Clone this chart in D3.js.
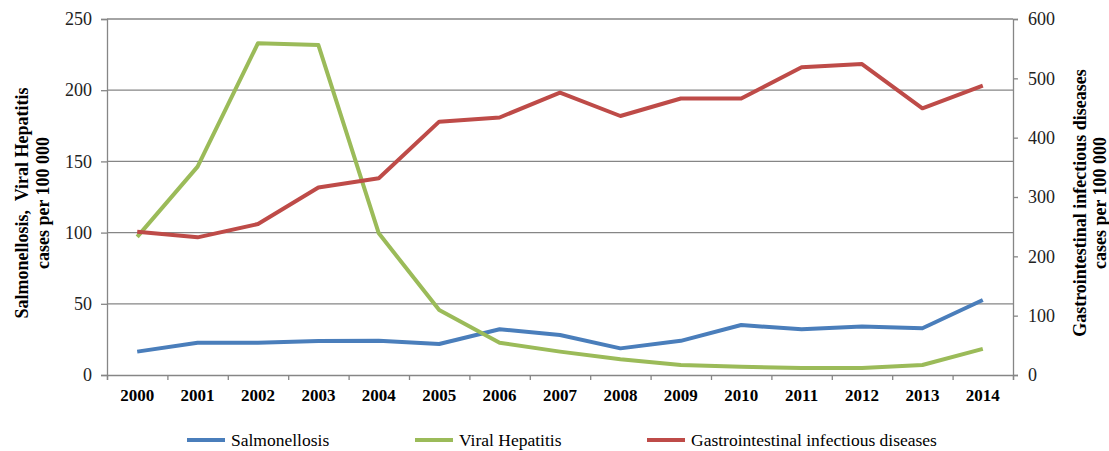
<!DOCTYPE html>
<html><head><meta charset="utf-8">
<script src="https://cdn.jsdelivr.net/npm/d3@7"></script>
<style>
html,body{margin:0;padding:0;background:#fff;}
svg{display:block;}
</style></head>
<body><svg id="c" width="1109" height="451"></svg>
<script>
const years = ["2000","2001","2002","2003","2004","2005","2006","2007","2008","2009","2010","2011","2012","2013","2014"];
const salmonellosis = [16.4,22.7,22.7,23.9,24,21.8,32.1,28.1,18.7,24,35.1,32.1,34,32.8,52.7];
const viralHepatitis = [97,146.3,233,231.7,99.5,45.6,22.7,16.4,11,7,5.8,4.9,4.9,7,18.3];
const gastro = [241.5,232,254.5,316,331.5,427,434,476,436.5,466,466,518.6,524,449.5,487.6];
const leftTicks = [0,50,100,150,200,250];
const rightTicks = [0,100,200,300,400,500,600];
const seriesNames = ["Salmonellosis","Viral Hepatitis","Gastrointestinal infectious diseases"];
const colors = ["#4A7EBB","#9BBB59","#BE4B48"];

const FONT = '"Liberation Serif", "Times New Roman", serif';
const svg = d3.select("#c");
const L = 107, R = 1013, T = 19, B = 375;
const x = d3.scaleBand().domain(years).range([L, R]).paddingInner(0).paddingOuter(0);
const xb = d3.scaleLinear().domain([0, years.length]).range([L, R]);
const yL = d3.scaleLinear().domain([0, 250]).range([B, T]);
const yR = d3.scaleLinear().domain([0, 600]).range([B, T]);
const cx = d => x(d) + x.bandwidth() / 2;
const gray = "#868686";

// gridlines
svg.append("g").selectAll("line").data(leftTicks.filter(d => d > 0)).join("line")
  .attr("x1", L).attr("x2", R).attr("y1", d => yL(d)).attr("y2", d => yL(d))
  .attr("stroke", gray).attr("stroke-width", 1.3);

// left axis
const gl = svg.append("g").attr("transform", `translate(${L},0)`)
  .call(d3.axisLeft(yL).tickValues(leftTicks).tickSize(6).tickPadding(9));
gl.selectAll("path,line").attr("stroke", gray).attr("stroke-width", 1.3);
gl.selectAll("text").style("font-size", "18px").attr("fill", "#222").style("font-family", FONT);

// right axis
const gr = svg.append("g").attr("transform", `translate(${R},0)`)
  .call(d3.axisRight(yR).tickValues(rightTicks).tickSize(5).tickPadding(10));
gr.selectAll("path,line").attr("stroke", gray).attr("stroke-width", 1.3);
gr.selectAll("text").style("font-size", "18px").attr("fill", "#222").style("font-family", FONT);

// bottom axis: tick marks at band boundaries
const gbt = svg.append("g").attr("transform", `translate(0,${B})`)
  .call(d3.axisBottom(xb).tickValues(d3.range(0, years.length + 1)).tickSize(5).tickFormat(""));
gbt.selectAll("path,line").attr("stroke", gray).attr("stroke-width", 1.3);
const gbl = svg.append("g").attr("transform", `translate(0,${B})`)
  .call(d3.axisBottom(x).tickSize(0).tickPadding(14));
gbl.select(".domain").remove();
gbl.selectAll("text").style("font-size", "17px").style("font-weight", "bold").attr("fill", "#000").style("font-family", FONT);

// lines
const lineL = d3.line().x((d, i) => cx(years[i])).y(d => yL(d));
const lineR = d3.line().x((d, i) => cx(years[i])).y(d => yR(d));
const data = [
  {v: salmonellosis, l: lineL, c: colors[0]},
  {v: viralHepatitis, l: lineL, c: colors[1]},
  {v: gastro, l: lineR, c: colors[2]}
];
svg.append("g").selectAll("path").data(data).join("path")
  .attr("d", d => d.l(d.v)).attr("fill", "none").attr("stroke", d => d.c)
  .attr("stroke-width", 4).attr("stroke-linejoin", "round");

// axis titles
const lt = svg.append("text").attr("transform", "translate(0,203) rotate(-90)")
  .attr("text-anchor", "middle").style("font-weight", "bold").style("font-size", "18px")
  .style("font-family", FONT).attr("fill", "#000");
lt.append("tspan").attr("x", 0).attr("y", 28).style("white-space", "pre").text("Salmonellosis,  Viral Hepatitis");
lt.append("tspan").attr("x", 0).attr("y", 49).text("cases per 100 000");
const rt = svg.append("text").attr("transform", "translate(1109,203) rotate(-90)")
  .attr("text-anchor", "middle").style("font-weight", "bold").style("font-size", "18px")
  .style("font-family", FONT).attr("fill", "#000");
rt.append("tspan").attr("x", 0).attr("y", -23).text("Gastrointestinal infectious diseases");
rt.append("tspan").attr("x", 0).attr("y", -3).text("cases per 100 000");

// legend
const legX = [187, 415, 647];
const lg = svg.append("g").selectAll("g").data(seriesNames).join("g")
  .attr("transform", (d, i) => `translate(${legX[i]},440)`);
lg.append("line").attr("x1", 0).attr("x2", 38).attr("stroke", (d, i) => colors[i]).attr("stroke-width", 4);
lg.append("text").attr("x", 44).attr("y", 5.5).style("font-size", "17.5px").style("font-family", FONT)
  .attr("fill", "#000").text(d => d);
</script></body></html>
